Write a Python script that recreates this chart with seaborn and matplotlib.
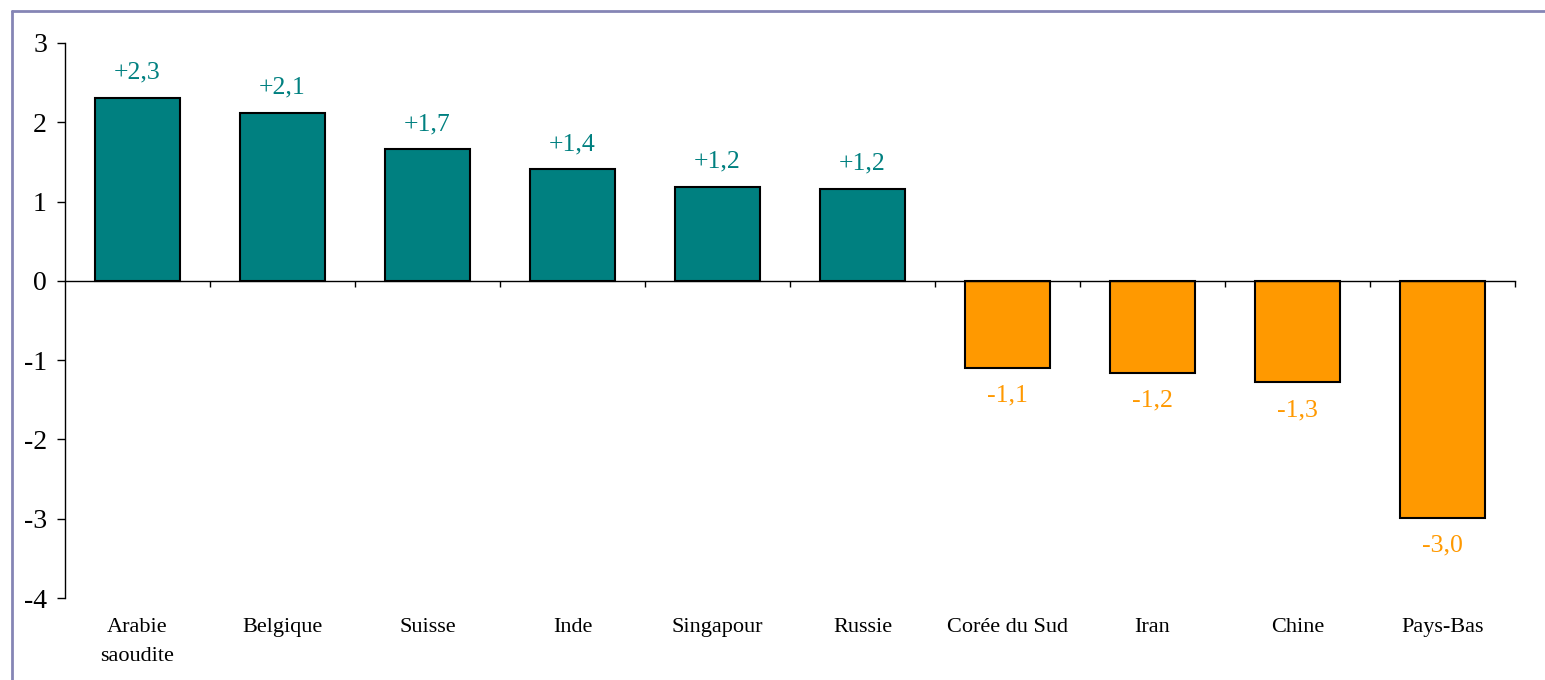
import matplotlib
matplotlib.use("Agg")
import matplotlib.pyplot as plt
import seaborn as sns
import pandas as pd
from matplotlib.lines import Line2D

categories = ["Arabie\nsaoudite", "Belgique", "Suisse", "Inde", "Singapour", "Russie",
              "Corée du Sud", "Iran", "Chine", "Pays-Bas"]
values = [2.31, 2.12, 1.66, 1.41, 1.19, 1.16, -1.10, -1.16, -1.28, -2.99]
labels = ["+2,3", "+2,1", "+1,7", "+1,4", "+1,2", "+1,2", "-1,1", "-1,2", "-1,3", "-3,0"]
y_ticks = [3, 2, 1, 0, -1, -2, -3, -4]

TEAL = "#008080"
ORANGE = "#FF9900"

sns.set_style("white")
plt.rcParams["font.family"] = ["Liberation Serif", "DejaVu Serif"]
plt.rcParams["text.color"] = "black"
plt.rcParams["ytick.color"] = "black"
plt.rcParams["xtick.color"] = "black"

df = pd.DataFrame({"cat": categories, "val": values,
                   "sign": ["pos" if v >= 0 else "neg" for v in values]})

fig = plt.figure(figsize=(15.45, 6.8), dpi=100)
ax = fig.add_axes([65 / 1545, 1 - 598 / 680, (1515 - 65) / 1545, (598 - 43) / 680])

sns.barplot(data=df, x="cat", y="val", hue="sign", palette={"pos": TEAL, "neg": ORANGE},
            dodge=False, width=0.59, edgecolor="black", linewidth=1.5, legend=False,
            saturation=1, ax=ax)

ax.set_xlim(-0.5, len(categories) - 0.5)
ax.set_ylim(-4, 3)
ax.set_yticks(y_ticks)
ax.set_yticklabels([str(t) for t in y_ticks], fontsize=20, color="black")
ax.tick_params(axis="y", direction="out", length=6, width=1, color="black", pad=7, left=True)

for s in ["top", "right"]:
    ax.spines[s].set_visible(False)
ax.spines["left"].set_color("black")
ax.spines["left"].set_linewidth(1)
ax.spines["bottom"].set_position(("data", 0))
ax.spines["bottom"].set_color("black")
ax.spines["bottom"].set_linewidth(1)
ax.set_xticks([i + 0.5 for i in range(len(categories))])
ax.set_xticklabels([])
ax.tick_params(axis="x", direction="out", length=4, width=1, color="black", bottom=True)
ax.set_xlabel("")
ax.set_ylabel("")

for i, c in enumerate(categories):
    ax.text(i, -0.036, c, transform=ax.get_xaxis_transform(), ha="center", va="top",
            fontsize=16, linespacing=1.7, color="black")

for i, (v, lab) in enumerate(zip(values, labels)):
    col = TEAL if v >= 0 else ORANGE
    off = 18 if v >= 0 else -20
    ax.annotate(lab, xy=(i, v), xytext=(0, off), textcoords="offset points",
                ha="center", va="center", fontsize=18.5, color=col)

frame_col = "#8585B5"
fig.add_artist(Line2D([12 / 1545, 12 / 1545], [0, 1 - 11 / 680], transform=fig.transFigure,
                      color=frame_col, linewidth=2))
fig.add_artist(Line2D([12 / 1545, 1], [1 - 11 / 680, 1 - 11 / 680], transform=fig.transFigure,
                      color=frame_col, linewidth=2))

fig.savefig("out.png", dpi=100, facecolor="white")
